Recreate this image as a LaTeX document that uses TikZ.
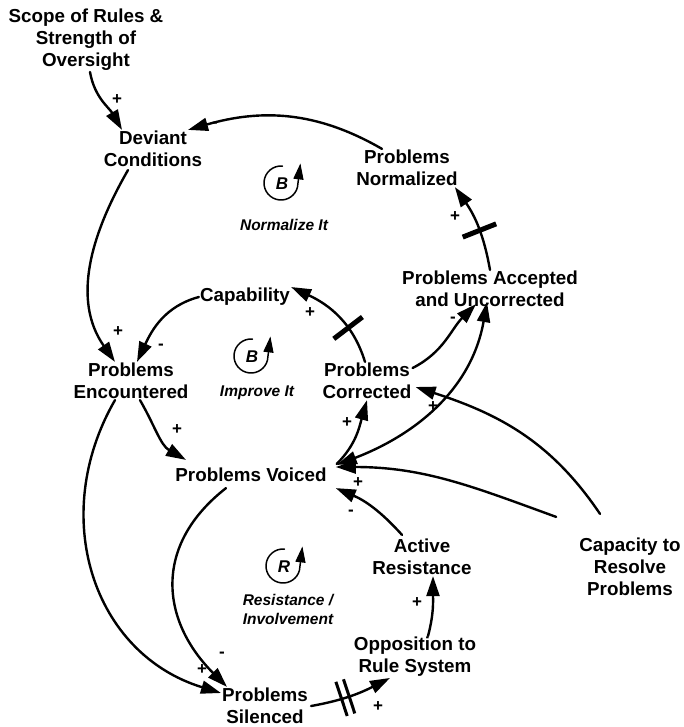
\documentclass[tikz,border=0pt]{standalone}
\usepackage{fontspec}
\setmainfont{Liberation Sans}
\usepackage{tikz}
\usetikzlibrary{arrows.meta}
\usetikzlibrary{decorations.markings}

\begin{document}
\begin{tikzpicture}[line cap=round,line join=round,x=1pt,y=1pt,
  >={Triangle[length=20pt,width=13pt]},
  var/.style={align=center,inner sep=1pt,font=\bfseries\fontsize{18.8}{22}\selectfont},
  link/.style={->,line width=2.4pt},
  sgn/.style={inner sep=0pt,font=\bfseries\fontsize{17}{17}\selectfont},
  loopname/.style={align=center,inner sep=1pt,font=\bfseries\itshape\fontsize{15.5}{19}\selectfont},
  loopchar/.style={inner sep=0pt,font=\bfseries\itshape\fontsize{17}{17}\selectfont},
  onedelay/.style={postaction={decorate,decoration={markings,mark=at position #1 with {\draw[arrows=-,line width=5pt,line cap=butt] (0,-18) -- (0,18);}}}},
  twodelay/.style={postaction={decorate,decoration={markings,mark=at position #1 with {\draw[arrows=-,line width=3pt,line cap=butt] (-4,-18) -- (-4,18) (4,-18) -- (4,18);}}}}]
\useasboundingbox (0,0) rectangle (683,-727);
% variables
\node[var] (scope) at (86,-40) {Scope of Rules \&\\Strength of\\Oversight};
\node[var] (dev) at (153,-149) {Deviant\\Conditions};
\node[var] (pn) at (407,-168) {Problems\\Normalized};
\node[var] (pa) at (490,-289) {Problems Accepted\\and Uncorrected};
\node[var] (cap) at (245,-297) {Capability};
\node[var] (pe) at (131,-381) {Problems\\Encountered};
\node[var] (pc) at (367,-381) {Problems\\Corrected};
\node[var] (pv) at (251,-475) {Problems Voiced};
\node[var] (ar) at (422,-557) {Active\\Resistance};
\node[var] (ctr) at (630,-567) {Capacity to\\Resolve\\Problems};
\node[var] (opp) at (415,-657) {Opposition to\\Rule System};
\node[var] (ps) at (265,-706) {Problems\\Silenced};
% links
\draw[link] ([xshift=4pt]scope.south) to[out=-80,in=120] ([xshift=-31pt]dev.north);
\draw[link] ([xshift=-25pt]pn.north) to[out=150,in=16] ([xshift=35pt]dev.north);
\draw[link,onedelay=.45] (pa.north) to[out=100,in=-55] ([xshift=-4pt]pn.south east);
\draw[link] ([xshift=-25pt,yshift=-2pt]dev.south) to[out=-120,in=125] ([xshift=-16pt]pe.north);
\draw[link] (cap.west) to[out=195,in=65] ([xshift=6pt]pe.north);
\draw[link,onedelay=.35] ([xshift=-2pt]pc.north) to[out=107,in=-25] (cap.north east);
\draw[link] ([yshift=13pt]pc.east) to[out=27,in=-135] ([xshift=-14pt,yshift=4pt]pa.south);
\draw[link] ([xshift=9pt]pe.south) to[out=-60,in=150] ([xshift=-65pt,yshift=7pt]pv.north);
\draw[link] ([xshift=9pt,yshift=3pt]pv.north east) to[out=45,in=-106] (pc.south);
\draw[link,<->] ([xshift=9pt,yshift=2pt]pv.north east) to[out=21,in=-100] ([xshift=-3pt,yshift=6pt]pa.south);
\draw[link] ([xshift=-30pt,yshift=23pt]ctr.north) to[out=124,in=-18] ([xshift=3pt,yshift=-6pt]pc.east);
\draw[link] ([xshift=-22pt,yshift=20pt]ctr.north west) to[out=160,in=0] ([xshift=8pt,yshift=8pt]pv.east);
\draw[link] ([xshift=-20pt,yshift=3pt]ar.north) to[out=132,in=-23] ([xshift=8pt,yshift=-5pt]pv.south east);
\draw[link] ([xshift=-25pt,yshift=-5pt]pv.south) to[out=-142,in=135,looseness=1.2] ([xshift=-38pt]ps.north);
\draw[link] ([xshift=-16pt]pe.south) to[out=-120,in=163,looseness=1.1] ([yshift=13pt]ps.west);
\draw[link,twodelay=.42] ([xshift=2pt]ps.east) to[out=10,in=-153] ([xshift=-25pt]opp.south);
\draw[link] ([xshift=13pt]opp.north) to[out=75,in=-90] ([xshift=11pt]ar.south);
% polarities
\foreach \x/\y/\s [count=\i] in {117/100/+,215/125/-,455/217/+,118/332/+,161/347/-,310/313/+,453/320/-,177/430/+,347/423/+,433/407/+,358/483/+,351/513/-,222/655/-,202/670/+,378/707/+,417/603/+}
  \node[sgn] (sg\i) at (\x,-\y) {\s};
% loop markers
\foreach \x/\y/\c [count=\i] in {282/184/B,252/357/B,284/567/R} {
  \node[loopchar] (lc\i) at (\x,-\y) {\c};
  \draw[line width=1.5pt,-{Triangle[length=16pt,width=10pt]}] ([shift={(85:17)},xshift=-1pt,yshift=1pt]lc\i.center) arc (85:345:17) -- ++(3,24);
}
\node[loopname] (ln1) at (284,-225) {Normalize It};
\node[loopname] (ln2) at (257,-393) {Improve It};
\node[loopname] (ln3) at (288,-609) {Resistance /\\Involvement};
\end{tikzpicture}
\end{document}
